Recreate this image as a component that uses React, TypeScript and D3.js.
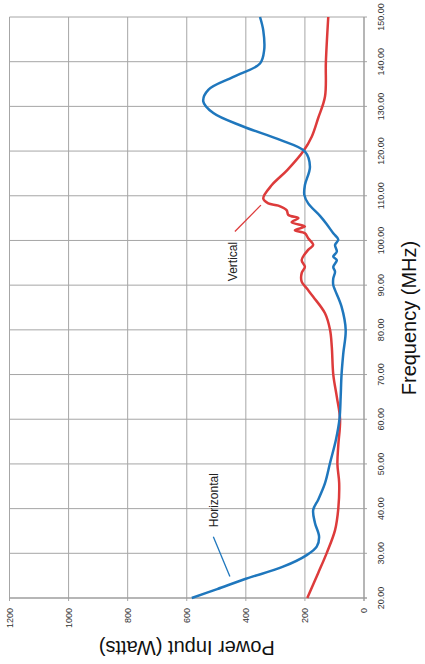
import * as d3 from "d3";

const FREQ_TICKS = [20, 30, 40, 50, 60, 70, 80, 90, 100, 110, 120, 130, 140, 150];
const POWER_TICKS = [0, 200, 400, 600, 800, 1000, 1200];

const HORIZONTAL_FREQ = [
  20, 22, 24.3, 27, 29.6, 31.5, 33.7, 36.8, 39.7, 42, 45.7, 50.2, 55.4, 60, 65, 70, 74.8, 80,
  85.2, 88.9, 90, 91.5, 93, 94.1, 95.6, 96.4, 97.5, 99, 100.2, 101.6, 103.8, 105.5, 108.3,
  110.2, 112.4, 116.5, 119.9, 122.5, 125.5, 128.5, 131.1, 133.7, 136.6, 139.6, 142.6, 147, 150,
];
const HORIZONTAL_WATTS = [
  583, 497, 400, 274, 194, 160, 152, 166, 172, 155, 132, 115, 95, 83, 79, 76, 70, 62,
  76, 98, 104, 104, 98, 104, 92, 104, 92, 98, 87, 104, 128, 149, 189,
  202, 200, 183, 200, 284, 409, 510, 544, 527, 442, 352, 338, 341, 352,
];

const VERTICAL_FREQ = [
  20, 25.6, 30.1, 35.2, 40, 45.7, 50, 54.2, 60, 65, 70, 76.2, 80, 83.7, 87.4, 89.3, 90.8,
  92.7, 94.1, 95.6, 97.9, 99, 100.5, 101.6, 102.3, 103.1, 104.1, 105, 105.7, 106.8, 107.8,
  108.3, 109.4, 112.4, 115.8, 120, 123.2, 127.4, 132.2, 140, 150,
];
const VERTICAL_WATTS = [
  192, 155, 126, 98, 87, 84, 90, 87, 81, 92, 104, 109, 115, 132, 172, 194, 211,
  211, 200, 211, 189, 172, 189, 200, 234, 200, 245, 222, 256, 262, 290,
  324, 341, 312, 259, 205, 177, 155, 132, 129, 121,
];

// leader lines and their labels, in data units
const HORIZONTAL_NOTE = { from: [33.7, 510], to: [24.8, 454], text: [41.9, 494] };
const VERTICAL_NOTE = { from: [102, 437], to: [107.9, 349], text: [95.3, 430] };

const BLUE = "#1f77bd";
const RED = "#dd3b3b";
const GRID = "#a6a6a6";
const FONT = "'Liberation Sans', Arial, sans-serif";

const W = 425;
const H = 664;

export default function App() {
  // laid out as a landscape chart, then turned a quarter turn to fit the page
  const x = d3.scaleLinear().domain([20, 150]).range([66, 647]);
  const y = d3.scaleLinear().domain([0, 1200]).range([364, 9.5]);

  const line = d3
    .line<[number, number]>()
    .x((d) => x(d[0]))
    .y((d) => y(d[1]))
    .curve(d3.curveCatmullRom.alpha(0.5));

  const horiz = HORIZONTAL_FREQ.map((f, i) => [f, HORIZONTAL_WATTS[i]] as [number, number]);
  const vert = VERTICAL_FREQ.map((f, i) => [f, VERTICAL_WATTS[i]] as [number, number]);

  return (
    <svg
      width={W}
      height={H}
      style={{ position: "absolute", left: 0, top: 0, background: "#fff" }}
      fontFamily={FONT}
    >
      <g transform={`translate(0,${H}) rotate(-90)`}>
        {/* grid */}
        {FREQ_TICKS.map((f) => (
          <line
            key={"f" + f}
            x1={x(f)}
            x2={x(f)}
            y1={y(0) + 3}
            y2={y(1200)}
            stroke={GRID}
            strokeWidth={1}
          />
        ))}
        {POWER_TICKS.map((p) => (
          <line
            key={"p" + p}
            x1={x(20) - 3}
            x2={x(150)}
            y1={y(p)}
            y2={y(p)}
            stroke={GRID}
            strokeWidth={1}
          />
        ))}
        <line x1={x(20)} x2={x(20)} y1={y(0) + 3} y2={y(1200)} stroke="#999" />
        <line x1={x(20) - 3} x2={x(150)} y1={y(0)} y2={y(0)} stroke="#999" />

        {/* tick labels */}
        {FREQ_TICKS.map((f) => (
          <text key={"fl" + f} x={x(f)} y={y(0) + 19.5} fontSize={9} textAnchor="middle" fill="#333">
            {f.toFixed(2)}
          </text>
        ))}
        {POWER_TICKS.map((p) => (
          <text
            key={"pl" + p}
            x={x(20) - 10}
            y={y(p)}
            fontSize={9}
            textAnchor="end"
            dominantBaseline="central"
            fill="#333"
          >
            {p}
          </text>
        ))}

        {/* axis titles */}
        <text x={346} y={416} fontSize={20} textAnchor="middle" fill="#111">
          Frequency (MHz)
        </text>
        <text
          transform={`translate(23,${(y(0) + y(1200)) / 2}) rotate(-90)`}
          fontSize={20}
          textAnchor="middle"
          fill="#111"
        >
          Power Input (Watts)
        </text>

        {/* series */}
        <path d={line(vert) ?? ""} fill="none" stroke={RED} strokeWidth={2.5} strokeLinejoin="round" />
        <path d={line(horiz) ?? ""} fill="none" stroke={BLUE} strokeWidth={2.5} strokeLinejoin="round" />

        {/* annotations */}
        <line
          x1={x(HORIZONTAL_NOTE.from[0])}
          y1={y(HORIZONTAL_NOTE.from[1])}
          x2={x(HORIZONTAL_NOTE.to[0])}
          y2={y(HORIZONTAL_NOTE.to[1])}
          stroke={BLUE}
          strokeWidth={1.3}
        />
        <text
          x={x(HORIZONTAL_NOTE.text[0])}
          y={y(HORIZONTAL_NOTE.text[1])}
          fontSize={12}
          textAnchor="middle"
          fill="#222"
        >
          Horizontal
        </text>
        <line
          x1={x(VERTICAL_NOTE.from[0])}
          y1={y(VERTICAL_NOTE.from[1])}
          x2={x(VERTICAL_NOTE.to[0])}
          y2={y(VERTICAL_NOTE.to[1])}
          stroke={RED}
          strokeWidth={1.3}
        />
        <text
          x={x(VERTICAL_NOTE.text[0])}
          y={y(VERTICAL_NOTE.text[1])}
          fontSize={12}
          textAnchor="middle"
          fill="#222"
        >
          Vertical
        </text>
      </g>
    </svg>
  );
}
